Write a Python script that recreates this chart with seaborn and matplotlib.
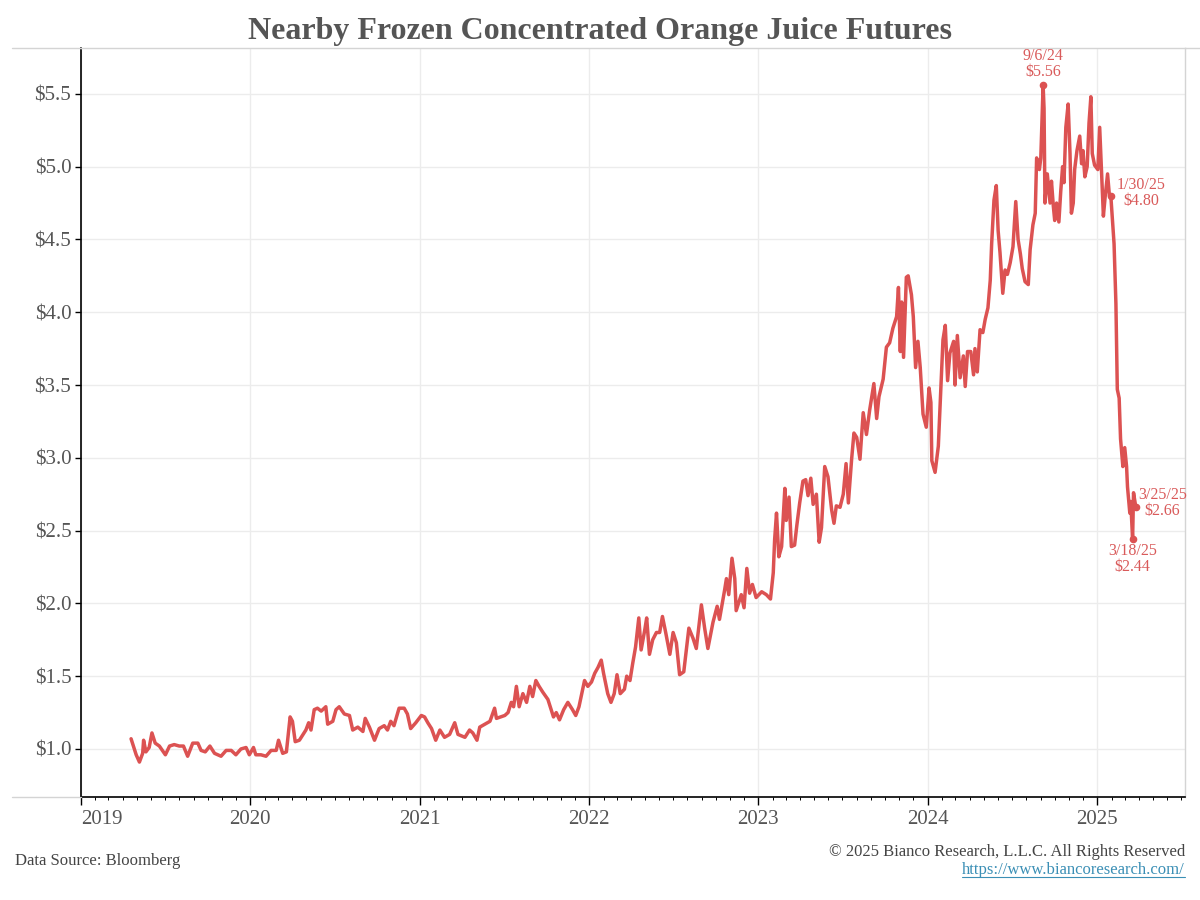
import matplotlib
matplotlib.use("Agg")
import matplotlib.pyplot as plt
import matplotlib.dates as mdates
from matplotlib.lines import Line2D
from matplotlib.ticker import FuncFormatter
import seaborn as sns
import pandas as pd

# ---------------- data ----------------
dates_2019 = ["2019-04-19", "2019-04-24", "2019-04-30", "2019-05-07", "2019-05-14", "2019-05-16",
              "2019-05-21", "2019-05-28", "2019-06-03", "2019-06-10", "2019-06-19", "2019-07-02",
              "2019-07-11", "2019-07-21", "2019-08-01", "2019-08-10", "2019-08-19", "2019-08-30",
              "2019-09-10", "2019-09-17", "2019-09-26", "2019-10-06", "2019-10-16", "2019-10-30",
              "2019-11-10", "2019-11-21", "2019-12-01", "2019-12-12", "2019-12-23", "2019-12-30"]
prices_2019 = [1.07, 1.02, 0.96, 0.91, 0.97, 1.06, 0.98, 1.01, 1.11, 1.04, 1.02, 0.96,
               1.02, 1.03, 1.02, 1.02, 0.95, 1.04, 1.04, 0.99, 0.98, 1.02, 0.97, 0.95,
               0.99, 0.99, 0.96, 1.00, 1.01, 0.96]

dates_2020 = ["2020-01-08", "2020-01-13", "2020-01-24", "2020-02-04", "2020-02-15", "2020-02-26",
              "2020-03-02", "2020-03-11", "2020-03-19", "2020-03-27", "2020-04-01", "2020-04-07",
              "2020-04-16", "2020-04-24", "2020-04-30", "2020-05-06", "2020-05-11", "2020-05-18",
              "2020-05-25", "2020-06-02", "2020-06-12", "2020-06-16", "2020-06-27", "2020-07-04",
              "2020-07-11", "2020-07-22", "2020-08-02", "2020-08-09", "2020-08-20", "2020-08-31",
              "2020-09-05", "2020-09-14", "2020-09-25", "2020-10-05", "2020-10-16", "2020-10-23",
              "2020-10-30", "2020-11-06", "2020-11-17", "2020-11-28", "2020-12-05", "2020-12-12",
              "2020-12-23"]
prices_2020 = [1.01, 0.96, 0.96, 0.95, 0.99, 0.99, 1.06, 0.97, 0.98, 1.22, 1.19, 1.05,
               1.06, 1.10, 1.13, 1.18, 1.13, 1.27, 1.28, 1.26, 1.29, 1.17, 1.19, 1.27,
               1.29, 1.24, 1.23, 1.13, 1.15, 1.12, 1.21, 1.15, 1.06, 1.14, 1.16, 1.13,
               1.19, 1.16, 1.28, 1.28, 1.24, 1.14, 1.18]

dates_2021 = ["2021-01-04", "2021-01-11", "2021-01-18", "2021-01-26", "2021-02-04", "2021-02-13",
              "2021-02-23", "2021-03-06", "2021-03-17", "2021-03-24", "2021-04-08", "2021-04-18",
              "2021-04-25", "2021-05-04", "2021-05-10", "2021-05-21", "2021-06-01", "2021-06-11",
              "2021-06-15", "2021-07-03", "2021-07-10", "2021-07-17", "2021-07-22", "2021-07-28",
              "2021-08-03", "2021-08-11", "2021-08-19", "2021-08-26", "2021-09-01", "2021-09-08",
              "2021-09-15", "2021-09-23", "2021-10-04", "2021-10-11", "2021-10-16", "2021-10-22",
              "2021-10-29", "2021-11-07", "2021-11-16", "2021-11-26", "2021-12-03", "2021-12-10",
              "2021-12-22", "2021-12-29"]
prices_2021 = [1.23, 1.22, 1.18, 1.14, 1.06, 1.13, 1.08, 1.10, 1.18, 1.10, 1.08, 1.13,
               1.11, 1.06, 1.15, 1.17, 1.19, 1.28, 1.21, 1.23, 1.25, 1.32, 1.29, 1.43,
               1.29, 1.38, 1.32, 1.43, 1.36, 1.47, 1.43, 1.39, 1.34, 1.27, 1.22, 1.25,
               1.20, 1.27, 1.32, 1.27, 1.23, 1.29, 1.47, 1.43]

dates_2022 = ["2022-01-06", "2022-01-13", "2022-01-20", "2022-01-27", "2022-02-01", "2022-02-10",
              "2022-02-17", "2022-02-24", "2022-03-02", "2022-03-09", "2022-03-18", "2022-03-23",
              "2022-03-30", "2022-04-05", "2022-04-11", "2022-04-18", "2022-04-23", "2022-05-01",
              "2022-05-05", "2022-05-11", "2022-05-18", "2022-05-26", "2022-06-02", "2022-06-08",
              "2022-06-15", "2022-06-24", "2022-07-01", "2022-07-08", "2022-07-15", "2022-07-24",
              "2022-08-04", "2022-08-13", "2022-08-20", "2022-08-31", "2022-09-07", "2022-09-14",
              "2022-09-25", "2022-10-04", "2022-10-09", "2022-10-20", "2022-10-24", "2022-10-29",
              "2022-11-05", "2022-11-11", "2022-11-14", "2022-11-25", "2022-12-01", "2022-12-07",
              "2022-12-13", "2022-12-19", "2022-12-27"]
prices_2022 = [1.46, 1.52, 1.56, 1.61, 1.52, 1.38, 1.32, 1.38, 1.51, 1.38, 1.41, 1.50,
               1.47, 1.59, 1.70, 1.90, 1.68, 1.82, 1.90, 1.65, 1.75, 1.80, 1.80, 1.91,
               1.80, 1.65, 1.80, 1.73, 1.51, 1.53, 1.83, 1.76, 1.69, 1.99, 1.83, 1.69,
               1.87, 1.98, 1.89, 2.09, 2.17, 2.06, 2.31, 2.17, 1.95, 2.06, 1.97, 2.24,
               2.07, 2.13, 2.04]

dates_2023 = ["2023-01-08", "2023-01-18", "2023-01-27", "2023-02-02", "2023-02-05", "2023-02-09",
              "2023-02-14", "2023-02-20", "2023-02-27", "2023-03-02", "2023-03-08", "2023-03-13",
              "2023-03-20", "2023-03-25", "2023-03-31", "2023-04-07", "2023-04-13", "2023-04-18",
              "2023-04-24", "2023-04-29", "2023-05-06", "2023-05-12", "2023-05-17", "2023-05-24",
              "2023-05-31", "2023-06-08", "2023-06-13", "2023-06-18", "2023-06-26", "2023-07-03",
              "2023-07-09", "2023-07-14", "2023-07-21", "2023-07-26", "2023-08-01", "2023-08-08",
              "2023-08-15", "2023-08-22", "2023-08-29", "2023-09-07", "2023-09-13", "2023-09-18",
              "2023-09-27", "2023-10-04", "2023-10-11", "2023-10-18", "2023-10-26", "2023-10-30",
              "2023-11-03", "2023-11-06", "2023-11-10", "2023-11-16", "2023-11-20", "2023-11-27",
              "2023-12-01", "2023-12-06", "2023-12-11", "2023-12-16", "2023-12-22", "2023-12-29"]
prices_2023 = [2.08, 2.06, 2.03, 2.21, 2.44, 2.62, 2.32, 2.39, 2.79, 2.57, 2.73, 2.39,
               2.40, 2.54, 2.69, 2.84, 2.85, 2.74, 2.86, 2.68, 2.75, 2.42, 2.52, 2.94,
               2.87, 2.64, 2.55, 2.67, 2.66, 2.75, 2.96, 2.69, 2.99, 3.17, 3.14, 2.99,
               3.31, 3.16, 3.33, 3.51, 3.27, 3.42, 3.54, 3.76, 3.79, 3.89, 3.97, 4.17,
               3.73, 4.07, 3.69, 4.24, 4.25, 4.12, 3.97, 3.62, 3.80, 3.62, 3.30, 3.21]

dates_2024 = ["2024-01-04", "2024-01-08", "2024-01-10", "2024-01-17", "2024-01-24", "2024-01-29",
              "2024-02-03", "2024-02-08", "2024-02-13", "2024-02-18", "2024-02-26", "2024-02-29",
              "2024-03-05", "2024-03-11", "2024-03-18", "2024-03-22", "2024-03-27", "2024-04-03",
              "2024-04-09", "2024-04-12", "2024-04-17", "2024-04-23", "2024-04-29", "2024-05-04",
              "2024-05-10", "2024-05-15", "2024-05-18", "2024-05-23", "2024-05-28", "2024-06-01",
              "2024-06-05", "2024-06-11", "2024-06-16", "2024-06-21", "2024-06-27", "2024-07-03",
              "2024-07-09", "2024-07-14", "2024-07-19", "2024-07-23", "2024-07-29", "2024-08-05",
              "2024-08-09", "2024-08-15", "2024-08-20", "2024-08-23", "2024-08-29", "2024-09-01",
              "2024-09-06", "2024-09-08", "2024-09-10", "2024-09-15", "2024-09-21", "2024-09-24",
              "2024-09-28", "2024-10-01", "2024-10-05", "2024-10-10", "2024-10-14", "2024-10-18",
              "2024-10-21", "2024-10-25", "2024-10-30", "2024-11-03", "2024-11-06", "2024-11-10",
              "2024-11-13", "2024-11-18", "2024-11-24", "2024-11-28", "2024-12-01", "2024-12-05",
              "2024-12-10", "2024-12-14", "2024-12-18", "2024-12-21", "2024-12-26"]
prices_2024 = [3.48, 3.38, 2.98, 2.90, 3.08, 3.44, 3.81, 3.91, 3.53, 3.72, 3.80, 3.50,
               3.84, 3.55, 3.70, 3.49, 3.73, 3.73, 3.57, 3.75, 3.59, 3.88, 3.86, 3.95,
               4.03, 4.22, 4.47, 4.77, 4.87, 4.56, 4.41, 4.13, 4.29, 4.26, 4.34, 4.45,
               4.76, 4.50, 4.40, 4.30, 4.21, 4.19, 4.43, 4.60, 4.68, 5.06, 4.98, 5.06,
               5.56, 5.40, 4.75, 4.95, 4.75, 4.90, 4.73, 4.63, 4.75, 4.62, 4.83, 5.00,
               4.89, 5.27, 5.43, 5.09, 4.68, 4.75, 4.98, 5.11, 5.21, 5.02, 5.11, 4.93,
               5.00, 5.30, 5.48, 5.09, 5.01]

dates_2025 = ["2025-01-02", "2025-01-06", "2025-01-11", "2025-01-14", "2025-01-18", "2025-01-23",
              "2025-01-27", "2025-01-30", "2025-02-06", "2025-02-10", "2025-02-13", "2025-02-17",
              "2025-02-20", "2025-02-25", "2025-03-01", "2025-03-05", "2025-03-07", "2025-03-12",
              "2025-03-14", "2025-03-18", "2025-03-20", "2025-03-25"]
prices_2025 = [4.98, 5.27, 4.88, 4.66, 4.80, 4.95, 4.80, 4.80, 4.47, 4.06, 3.47, 3.41,
               3.13, 2.94, 3.07, 2.94, 2.80, 2.62, 2.70, 2.44, 2.76, 2.66]

# annotated points
note_dates = ["2024-09-06", "2025-01-30", "2025-03-18", "2025-03-25"]
note_values = [5.56, 4.80, 2.44, 2.66]
note_labels = ["9/6/24\n$5.56", "1/30/25\n$4.80", "3/18/25\n$2.44", "3/25/25\n$2.66"]

y_ticks = [1.0, 1.5, 2.0, 2.5, 3.0, 3.5, 4.0, 4.5, 5.0, 5.5]

title = "Nearby Frozen Concentrated Orange Juice Futures"
source_text = "Data Source: Bloomberg"
copyright_text = "\u00a9 2025 Bianco Research, L.L.C. All Rights Reserved"
url_text = "https://www.biancoresearch.com/"

# ---------------- build frame ----------------
all_dates = dates_2019 + dates_2020 + dates_2021 + dates_2022 + dates_2023 + dates_2024 + dates_2025
all_prices = prices_2019 + prices_2020 + prices_2021 + prices_2022 + prices_2023 + prices_2024 + prices_2025
assert len(all_dates) == len(all_prices)
df = pd.DataFrame({"date": pd.to_datetime(all_dates), "price": all_prices})

RED = "#dc5252"
TEXT_RED = "#d95a5a"
GRAY_TXT = "#555555"

sns.set_theme(style="white")
plt.rcParams['font.family'] = ['Liberation Serif', 'DejaVu Serif']

fig = plt.figure(figsize=(12, 9), dpi=100)
ax = fig.add_axes([81 / 1200, 103 / 900, 1104 / 1200, 749 / 900])

sns.lineplot(data=df, x="date", y="price", ax=ax, color=RED, linewidth=2.5,
             solid_joinstyle="round", solid_capstyle="round", zorder=3)

ax.set_xlim(pd.Timestamp("2019-01-01"), pd.Timestamp("2025-07-09"))
ax.set_ylim(0.67, 5.815)
ax.set_xlabel("")
ax.set_ylabel("")

ax.xaxis.set_major_locator(mdates.YearLocator())
ax.xaxis.set_major_formatter(mdates.DateFormatter("%Y"))
ax.xaxis.set_minor_locator(mdates.MonthLocator())
ax.set_yticks(y_ticks)
ax.yaxis.set_major_formatter(FuncFormatter(lambda v, p: f"${v:.1f}"))

ax.tick_params(axis="x", which="major", bottom=True, length=6, width=1, color="black",
               direction="out", labelsize=15, labelcolor=GRAY_TXT, pad=3)
ax.tick_params(axis="x", which="minor", bottom=True, length=2.5, width=0.7, color="black",
               direction="out")
ax.tick_params(axis="y", which="major", left=True, length=4, width=1, color="black",
               direction="out", labelsize=15, labelcolor=GRAY_TXT, pad=3)

ax.grid(True, which="major", color="#ececec", linewidth=1, zorder=0)
for side in ["left", "bottom"]:
    ax.spines[side].set_color("black")
    ax.spines[side].set_linewidth(1.2)
for side in ["top", "right"]:
    ax.spines[side].set_color("#d4d4d4")
    ax.spines[side].set_linewidth(1)

# first year label sits to the right of its tick
fig.canvas.draw()
for lab in ax.get_xticklabels():
    if lab.get_text() == "2019":
        lab.set_horizontalalignment("left")

# annotations
note_ts = pd.to_datetime(note_dates)
ax.scatter(note_ts, note_values, s=20, color=RED, zorder=4)
offsets = [(0, 4), (22, 2), (0, -3), (19, 3)]
aligns = [("center", "bottom"), ("center", "center"), ("center", "top"), ("center", "center")]
for d, v, lab, off, (ha, va) in zip(note_ts, note_values, note_labels, offsets, aligns):
    ax.annotate(lab, xy=(d, v), xytext=off, textcoords="offset points", ha=ha, va=va,
                fontsize=11.5, color=TEXT_RED, linespacing=0.95, multialignment="center",
                zorder=5)

# frame lines outside the axes
fig.add_artist(Line2D([12 / 1200, 81 / 1200], [852 / 900, 852 / 900], color="#d4d4d4", lw=1))
fig.add_artist(Line2D([12 / 1200, 81 / 1200], [103 / 900, 103 / 900], color="#d4d4d4", lw=1))
fig.add_artist(Line2D([1185 / 1200, 1.0], [852 / 900, 852 / 900], color="#d4d4d4", lw=1))

# title and footer
fig.text(0.5, 1 - 31 / 900, title, ha="center", va="center", fontsize=23,
         fontweight="bold", color=GRAY_TXT)
fig.text(15 / 1200, 1 - 861 / 900, source_text, ha="left", va="center", fontsize=12,
         color="#444444")
fig.text(1185 / 1200, 1 - 852 / 900, copyright_text, ha="right", va="center", fontsize=12,
         color="#444444")
url = fig.text(1185 / 1200, 1 - 870 / 900, url_text, ha="right", va="center", fontsize=12,
               color="#3b8fb5")
fig.canvas.draw()
bb = url.get_window_extent()
W, H = fig.bbox.width, fig.bbox.height
fig.add_artist(Line2D([bb.x0 / W, bb.x1 / W], [(bb.y0 + 1) / H, (bb.y0 + 1) / H],
                      color="#3b8fb5", lw=0.8))

fig.savefig("out.png", dpi=100)
